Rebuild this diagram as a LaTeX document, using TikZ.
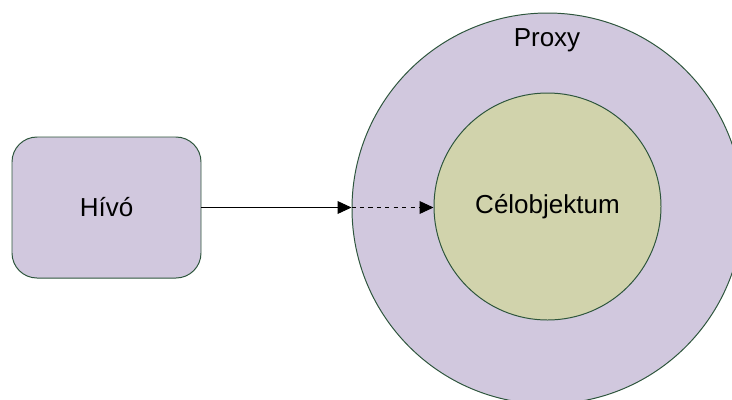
\documentclass[tikz,border=0pt]{standalone}
\usepackage{fontspec}
\setmainfont{Liberation Sans}
\usetikzlibrary{arrows.meta}
\definecolor{lila}{RGB}{209,200,222}
\definecolor{oliva}{RGB}{209,211,172}
\definecolor{szegely}{RGB}{45,85,60}
\tikzset{
  dobozka/.style={draw=szegely,fill=lila,line width=0.7pt,rounded corners=0.625cm,
    minimum width=4.725cm,minimum height=3.525cm,inner sep=0pt},
  kor/.style={draw=szegely,line width=0.7pt,circle,inner sep=0pt},
  nyil/.style={-{Triangle[length=0.35cm,width=0.32cm]},line width=0.7pt}
}
\begin{document}
\begin{tikzpicture}[font=\fontsize{18.5}{22}\selectfont]
  \clip (0,0) rectangle (18.3,-9.975);
  \node[kor,fill=lila,minimum size=9.775cm] (proxy) at (13.6875,-5.2125) {};
  \node[kor,fill=oliva,minimum size=5.675cm] (cel) at (13.6875,-5.1625) {Célobjektum};
  \node (proxyfelirat) at (13.675,-1.0) {Proxy};
  \node[dobozka] (hivo) at (2.6625,-5.1875) {Hívó};
  \draw[nyil] (hivo.east) -- (hivo.east -| proxy.west) coordinate (belep);
  \draw[nyil,dashed] (belep) -- (belep -| cel.west);
\end{tikzpicture}
\end{document}
